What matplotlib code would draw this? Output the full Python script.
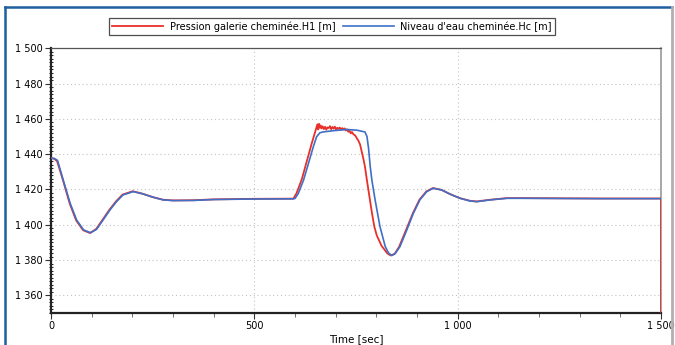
import matplotlib
matplotlib.use("Agg")
import matplotlib.pyplot as plt
from matplotlib.lines import Line2D
from matplotlib.ticker import MultipleLocator, FuncFormatter

plt.rcParams['font.family'] = ['Liberation Sans Narrow', 'DejaVu Sans']

# Niveau d'eau cheminee Hc [m] (bleu)
t_hc = [0, 8, 16, 30, 47, 63, 80, 97, 112, 128, 145, 161, 177, 202, 226, 251,
        276, 300, 350, 400, 500, 595, 600, 608, 621, 633, 645, 653, 661, 669,
        694, 727, 752, 772, 777, 781, 785, 789, 797, 809, 822, 830, 838, 846,
        858, 875, 891, 907, 924, 940, 961, 981, 1006, 1030, 1047, 1080, 1121,
        1161, 1250, 1350, 1500]
hc = [1437.7, 1437.6, 1436.5, 1425.4, 1412.2, 1402.7, 1397.1, 1395.5, 1397.4,
      1402.7, 1408.4, 1413.1, 1416.9, 1418.8, 1417.5, 1415.6, 1414.1, 1413.7,
      1413.8, 1414.3, 1414.6, 1414.7, 1414.9, 1417.7, 1425.3, 1434.7, 1444.2,
      1449.8, 1452.1, 1452.6, 1453.3, 1454.0, 1453.6, 1452.6, 1450.0, 1443.0,
      1433.0, 1425.4, 1414.1, 1398.9, 1387.6, 1384.0, 1382.6, 1383.6, 1387.6,
      1397.1, 1406.5, 1414.1, 1418.8, 1420.7, 1419.7, 1417.4, 1415.0, 1413.5,
      1413.1, 1414.1, 1415.0, 1415.0, 1414.9, 1414.8, 1414.8]

# Pression galerie cheminee H1 [m] (rouge)
t_h1 = [0, 8, 15, 29, 46, 62, 79, 96, 111, 127, 144, 160, 176, 201, 225, 250,
        275, 300, 350, 400, 500, 596, 604, 617, 629, 641, 650, 655, 657, 659,
        661, 663, 665, 668, 671, 674, 677, 680, 683, 686, 689, 692, 695, 698,
        701, 704, 707, 710, 713, 716, 719, 722, 725, 728, 731, 734, 737, 740,
        744, 748, 752, 756, 760, 764, 768, 772, 777, 781, 789, 795, 801, 813,
        827, 835, 845, 856, 873, 890, 906, 923, 939, 960, 980, 1005, 1030,
        1047, 1080, 1121, 1161, 1250, 1350, 1500, 1500]
h1 = [1437.8, 1437.4, 1436.0, 1425.6, 1412.0, 1402.4, 1396.9, 1395.3, 1397.6,
      1402.9, 1408.6, 1413.3, 1417.1, 1419.0, 1417.6, 1415.7, 1414.2, 1413.8,
      1413.9, 1414.4, 1414.7, 1414.8, 1418.0, 1426.0, 1436.0, 1446.0, 1453.0,
      1456.9, 1454.0, 1457.2, 1455.0, 1456.3, 1454.6, 1455.8, 1454.2, 1455.5,
      1453.9, 1455.2, 1454.8, 1455.9, 1454.1, 1455.4, 1454.5, 1455.6, 1453.8,
      1455.0, 1454.3, 1455.1, 1453.9, 1454.8, 1454.0, 1454.6, 1453.4, 1454.1,
      1452.7, 1453.3, 1451.8, 1452.6, 1451.2, 1450.6, 1449.0, 1447.6, 1445.5,
      1441.5, 1437.5, 1433.0, 1425.0, 1419.0, 1407.0, 1399.0, 1394.0, 1388.0,
      1383.8, 1382.6, 1383.5, 1387.5, 1397.0, 1406.6, 1414.2, 1418.9, 1420.8,
      1419.8, 1417.5, 1415.1, 1413.6, 1413.2, 1414.2, 1415.1, 1415.1, 1415.0,
      1414.9, 1414.9, 1350.0]

fig = plt.figure(figsize=(6.75, 3.45), dpi=100)
ax = fig.add_axes([51/675, 1 - 313/345, 610/675, (313 - 48.3)/345])

ax.plot(t_h1, h1, color='#e8302a', lw=1.3, label='Pression galerie cheminée.H1 [m]', zorder=3)
ax.plot(t_hc, hc, color='#3f6fc6', lw=1.2, label="Niveau d'eau cheminée.Hc [m]", zorder=4)

ax.set_xlim(0, 1500)
ax.set_ylim(1350, 1500)
ax.xaxis.set_major_locator(MultipleLocator(500))
ax.xaxis.set_minor_locator(MultipleLocator(100))
ax.yaxis.set_major_locator(MultipleLocator(20))
ax.yaxis.set_minor_locator(MultipleLocator(2))
fmt = FuncFormatter(lambda v, p: f"{int(round(v)):,}".replace(",", " "))
ax.xaxis.set_major_formatter(fmt)
ax.yaxis.set_major_formatter(fmt)

ax.grid(True, which='major', color='#c4c4c4', linestyle=(0, (1, 2.5)), lw=0.8)
ax.tick_params(axis='both', which='major', labelsize=7, length=4, width=0.8,
               color='#333333', pad=2)
ax.tick_params(axis='y', which='minor', length=2.5, width=0.6, direction='inout')
ax.tick_params(axis='x', which='minor', length=3, width=0.6, color='#555555')

for s in ['left', 'bottom']:
    ax.spines[s].set_linewidth(1.6)
    ax.spines[s].set_color('#222222')
ax.spines['top'].set_color('#555555')
ax.spines['top'].set_linewidth(0.9)
ax.spines['right'].set_color('#999999')
ax.spines['right'].set_linewidth(1.2)

ax.set_xlabel('Time [sec]', fontsize=7.5, labelpad=2)

leg = fig.legend(loc='center', bbox_to_anchor=(332/675, 1 - 26.5/345), ncol=2,
                 fontsize=7, frameon=True, fancybox=False, handlelength=5.2,
                 columnspacing=0.8, handletextpad=0.7, borderpad=0.35)
leg.get_frame().set_edgecolor('#222222')
leg.get_frame().set_linewidth(0.9)

# cadre de la fenetre
fig.add_artist(Line2D([5.3/675, 5.3/675], [0, 1 - 7.3/345], color='#1f5fa0', lw=1.8,
                      transform=fig.transFigure))
fig.add_artist(Line2D([5.3/675, 672.3/675], [1 - 7.3/345, 1 - 7.3/345], color='#1f5fa0',
                      lw=1.8, transform=fig.transFigure))
fig.add_artist(Line2D([672.3/675, 672.3/675], [0, 1 - 7.3/345], color='#b0b0b0', lw=2,
                      transform=fig.transFigure))

fig.savefig('out.png', dpi=100)
